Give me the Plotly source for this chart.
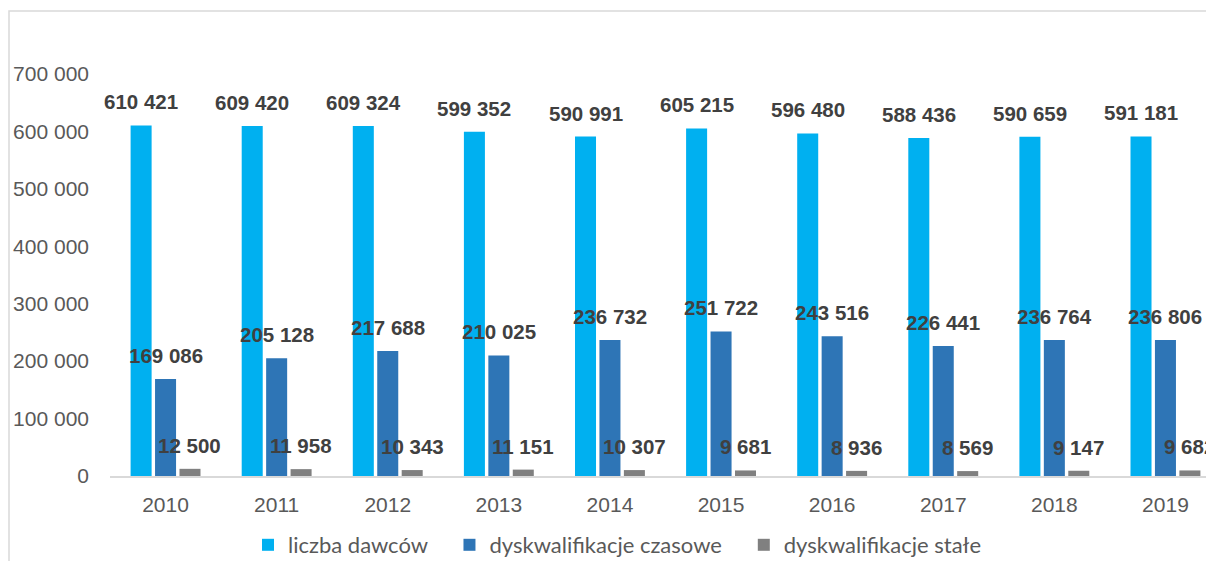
import plotly.graph_objects as go

years = ["2010", "2011", "2012", "2013", "2014", "2015", "2016", "2017", "2018", "2019"]
liczba_dawcow = [610421, 609420, 609324, 599352, 590991, 605215, 596480, 588436, 590659, 591181]
dysk_czasowe = [169086, 205128, 217688, 210025, 236732, 251722, 243516, 226441, 236764, 236806]
dysk_stale = [12500, 11958, 10343, 11151, 10307, 9681, 8936, 8569, 9147, 9682]

series_names = ["liczba dawców", "dyskwalifikacje czasowe", "dyskwalifikacje stałe"]
series_values = [liczba_dawcow, dysk_czasowe, dysk_stale]
colors = ["#00B0F0", "#2E75B6", "#808080"]

BARGAP = 0.34
BARGROUPGAP = 0.14
NBSP = "\u00a0"
legend_pads = [3, 3, 0]

def fmt(v):
    return f"{v:,}".replace(",", " ")

fig = go.Figure()
for name, vals, col, npad in zip(series_names, series_values, colors, legend_pads):
    fig.add_trace(go.Bar(
        x=list(range(len(years))), y=vals, name=name + NBSP * npad,
        marker=dict(color=col, line=dict(width=0)),
    ))

# data labels as annotations above each bar
slot = (1 - BARGAP) / len(series_values)
annotations = []
for i, vals in enumerate(series_values):
    off = -(1 - BARGAP) / 2 + slot * (i + 0.5)
    for j, v in enumerate(vals):
        annotations.append(dict(
            x=j + off, y=v, xref="x", yref="y", text="<b>" + fmt(v) + "</b>",
            showarrow=False, yanchor="bottom", xanchor="center", yshift=10,
            font=dict(family="Liberation Sans, Arial", size=20.5, color="#404040"),
        ))

L, R_EDGE, T, B = 110, 1206, 74, 476
pw = R_EDGE - L
ph = B - T
px_per_cat = 111.1
x_end = -0.5 + pw / px_per_cat

def px2paper_x(p):
    return (p - L) / pw

def px2paper_y(p):
    return (B - p) / ph

shapes = [dict(
    type="rect", xref="paper", yref="paper",
    x0=px2paper_x(9), x1=px2paper_x(1300), y0=px2paper_y(11), y1=px2paper_y(650),
    line=dict(color="#d9d9d9", width=1.5), fillcolor="rgba(0,0,0,0)", layer="below",
)]

fig.update_layout(
    width=1206, height=561,
    margin=dict(l=L, r=0, t=T, b=561 - B, pad=0, autoexpand=False),
    paper_bgcolor="white", plot_bgcolor="white",
    barmode="group", bargap=BARGAP, bargroupgap=BARGROUPGAP,
    separators=", ",
    annotations=annotations,
    shapes=shapes,
    showlegend=True,
    legend=dict(
        orientation="h", x=px2paper_x(248), xanchor="left",
        y=px2paper_y(545), yanchor="middle",
        font=dict(family="Lato, Open Sans", size=22, color="#595959"),
        itemwidth=30, tracegroupgap=0,
    ),
    xaxis=dict(
        tickmode="array", tickvals=list(range(len(years))), ticktext=years,
        range=[-0.5, x_end], showgrid=False, zeroline=False,
        showline=True, linecolor="#d9d9d9", linewidth=1.5,
        ticks="", ticklabelstandoff=9, automargin=False,
        tickfont=dict(family="Liberation Sans, Arial", size=21, color="#595959"),
    ),
    yaxis=dict(
        range=[0, 700000], dtick=100000, showgrid=False, zeroline=False,
        showline=False, ticks="", ticklabelstandoff=20, automargin=False,
        tickformat=",d",
        tickfont=dict(family="Liberation Sans, Arial", size=21, color="#595959"),
    ),
)

fig.write_html("out.html", post_script="document.body.style.margin='0';",
               config={"displayModeBar": False})
